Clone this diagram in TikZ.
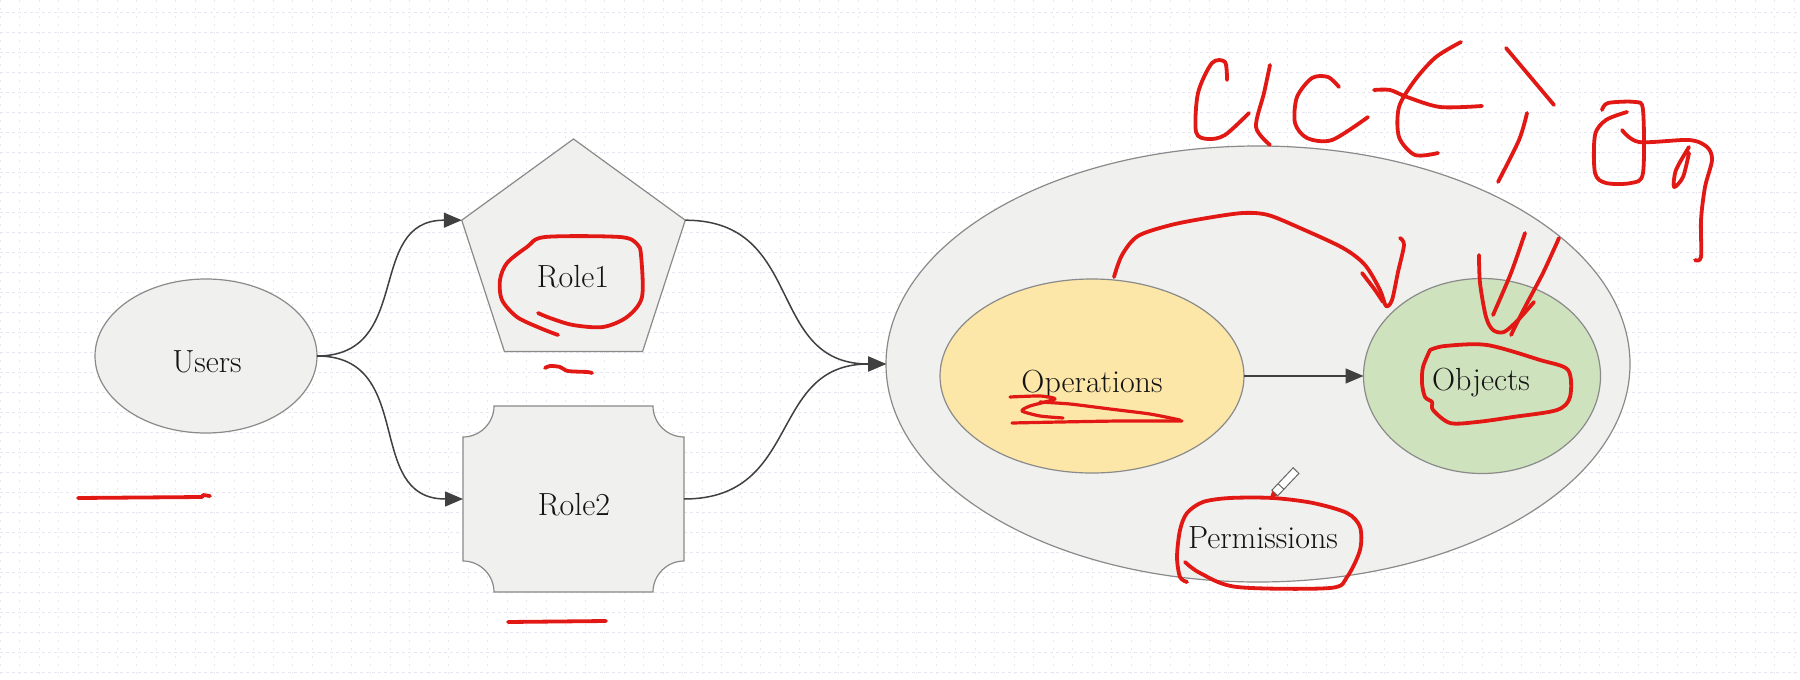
\documentclass[tikz,border=0pt]{standalone}
\usetikzlibrary{shapes.geometric,arrows.meta}
\definecolor{nodefill}{RGB}{240,240,238}
\definecolor{nodedraw}{RGB}{138,138,138}
\definecolor{opsfill}{RGB}{252,231,168}
\definecolor{objfill}{RGB}{207,226,190}
\definecolor{conncol}{RGB}{64,64,64}
\definecolor{inkred}{RGB}{226,24,20}
\definecolor{gridcol}{RGB}{229,232,240}
\tikzset{
  shapebox/.style={draw=nodedraw, fill=nodefill, line width=0.6pt, inner sep=0pt, outer sep=0pt},
  ellbox/.style={shapebox, ellipse},
  conn/.style={draw=conncol, line width=0.75pt, -{Triangle[length=9pt,width=7.5pt]}},
  lbl/.style={anchor=base, inner sep=0pt, font=\fontsize{16}{19}\selectfont, text=black!92},
  ink/.style={draw=inkred, line width=1.9pt, line cap=round, line join=round},
  gridh/.style={draw=gridcol, line width=0.5pt, dash pattern=on 1.5pt off 1.5pt},
  gridv/.style={draw=gridcol, line width=0.5pt, dash pattern=on 1pt off 3pt},
}
\begin{document}
\begin{tikzpicture}[x=0.5pt,y=-0.5pt]
\useasboundingbox (0,0) rectangle (1800,680);
\fill[white] (0,0) rectangle (1800,680);
% background grid
\foreach \yy in {12,32,...,672} \draw[gridh] (0,\yy) -- (1800,\yy);
\foreach \xx in {0,19.5,...,1800} \draw[gridv] (\xx,0) -- (\xx,680);

% Permissions container
\node[ellbox, minimum width=372pt, minimum height=218pt] (perm) at (1258,364) {};
\node[lbl] (permt) at (1263,548) {Permissions};

% Operations and Objects
\node[ellbox, fill=opsfill, minimum width=152pt, minimum height=97pt] (ops) at (1092,376) {};
\node[lbl] (opst) at (1092,392) {Operations};
\node[ellbox, fill=objfill, minimum width=118.5pt, minimum height=97.5pt] (obj) at (1482,376) {};
\node[lbl] (objt) at (1481,390) {Objects};
\draw[conn] (ops.east) -- (obj.west);

% Users
\node[ellbox, minimum width=111pt, minimum height=77pt] (users) at (206,356) {};
\node[lbl] (userst) at (207,372) {Users};

% Role1 pentagon
\node[shapebox, regular polygon, regular polygon sides=5, minimum size=117.5pt] (r1) at (573.5,256.5) {};
\node[lbl] (r1t) at (573,287) {Role1};

% Role2 with concave corners
\draw[shapebox] (494,406) -- (653,406) .. controls (653,423) and (667,437) .. (684,437)
  -- (684,561) .. controls (667,561) and (653,575) .. (653,592)
  -- (494,592) .. controls (494,575) and (480,561) .. (463,561)
  -- (463,437) .. controls (480,437) and (494,423) .. (494,406) -- cycle;
\node[inner sep=0pt, outer sep=0pt, minimum width=110.5pt, minimum height=93pt] (r2) at (573.5,499) {};
\node[lbl] (r2t) at (574,515) {Role2};

% connectors
\draw[conn] (users.east) to[out=0,in=180,looseness=1.25] (r1.corner 2);
\draw[conn] (users.east) to[out=0,in=180,looseness=1.25] (r2.west);
\draw[conn] (r1.corner 5) to[out=0,in=180,looseness=1.25] (perm.west);
\draw[conn] (r2.east) to[out=0,in=180,looseness=1.25] (perm.west);

% ---------- red hand annotations ----------
% "action"
\draw[ink] plot[smooth,tension=0.5] coordinates {(1227,80) (1225,62) (1212,63) (1198,93) (1196,132) (1208,139) (1225,135) (1249,113)};
\draw[ink] plot[smooth,tension=0.5] coordinates {(1270,65) (1264,93) (1256,127) (1270,145)};
\draw[ink] plot[smooth,tension=0.5] coordinates {(1339,87) (1328,77) (1312,78) (1297,97) (1295,123) (1307,138) (1332,140) (1368,117)};
\draw[ink] plot[smooth,tension=0.5] coordinates {(1374,90) (1390,90) (1407,97) (1440,107) (1482,106)};
\draw[ink] plot[smooth,tension=0.5] coordinates {(1461,42) (1436,57) (1415,80) (1399,107) (1399,137) (1415,155) (1438,153)};
\draw[ink] (1506,48) -- (1554,105);
\draw[ink] plot[smooth,tension=0.5] coordinates {(1527,113) (1519,140) (1498,182)};
\draw[ink] plot[smooth,tension=0.5] coordinates {(1627,112) (1606,120) (1595,135) (1595,173) (1606,183) (1631,183) (1643,173) (1643,110) (1635,102) (1608,103) (1602,110)};
\draw[ink] plot[smooth,tension=0.5] coordinates {(1622,130) (1639,142) (1689,140) (1707,147) (1712,160) (1705,187) (1701,220) (1701,257) (1695,260)};
\draw[ink] plot[smooth,tension=0.5] coordinates {(1689,147) (1676,170) (1674,187) (1683,177) (1689,153)};

% arc from Operations to Objects
\draw[ink] plot[smooth,tension=0.5] coordinates {(1114,277) (1122,255) (1138,236) (1171,225) (1207,218) (1243,213) (1268,215) (1300,228) (1343,248) (1365,265) (1380,290) (1386,306) (1392,300) (1398,272) (1404,245) (1400,238)};
\draw[ink] plot[smooth,tension=0.5] coordinates {(1362,273) (1375,290) (1383,302)};

% V strokes above Objects
\draw[ink] plot[smooth,tension=0.5] coordinates {(1479,255) (1480,283) (1486,317) (1493,330) (1504,332) (1518,320) (1534,302)};
\draw[ink] plot[smooth,tension=0.5] coordinates {(1525,233) (1511,273) (1493,315)};
\draw[ink] plot[smooth,tension=0.5] coordinates {(1559,238) (1543,273) (1525,307) (1511,335)};

% circle around Objects
\draw[ink] plot[smooth,tension=0.5] coordinates {(1430,350) (1445,346) (1487,345) (1540,360) (1568,370) (1570,397) (1557,410) (1513,417) (1477,422) (1450,423) (1433,410) (1432,402) (1425,397) (1422,383) (1423,367) (1430,350)};

% circle around Role1 and underline
\draw[ink] plot[smooth,tension=0.5] coordinates {(558,335) (540,328) (517,317) (502,300) (500,280) (507,263) (527,247) (545,237) (620,237) (637,244) (641,255) (642,297) (627,317) (603,327) (573,325) (550,318) (538,313)};
\draw[ink] plot[smooth,tension=0.5] coordinates {(545,368) (550,366) (560,367) (568,371) (587,372) (592,373)};

% underline Role2
\draw[ink] (508,622) -- (606,621);
% underline Users
\draw[ink] (78,498) -- (202,497) -- (203,495) -- (210,496);

% scribble under Operations
\draw[ink, line width=1.6pt] plot[smooth,tension=0.4] coordinates {(1010,397) (1040,396) (1055,399) (1030,406) (1022,411) (1040,416) (1063,418)};
\draw[ink, line width=1.6pt] plot[smooth,tension=0.4] coordinates {(1040,402) (1070,404) (1110,409) (1150,414) (1180,420)};
\draw[ink, line width=1.6pt] plot[smooth,tension=0.4] coordinates {(1012,423) (1060,422) (1120,421) (1182,421)};

% circle around Permissions
\draw[ink] plot[smooth,tension=0.5] coordinates {(1185,562) (1200,573) (1237,587) (1330,588) (1347,577) (1360,550) (1360,527) (1347,513) (1313,503) (1273,498) (1230,498) (1203,502) (1187,513) (1180,530) (1177,557) (1180,577) (1187,582)};

% pen cursor
\fill[inkred] (1270,498) -- (1277.3,495.4) -- (1272.3,490.6) -- cycle;
\draw[fill=white, draw=black!60, line width=0.5pt] (1277.7,495.8) -- (1298.9,473.4) -- (1293.1,467.8) -- (1271.9,490.2) -- cycle;
\draw[draw=black!60, line width=0.5pt] (1284,489.4) -- (1278.2,483.8);
\end{tikzpicture}
\end{document}
